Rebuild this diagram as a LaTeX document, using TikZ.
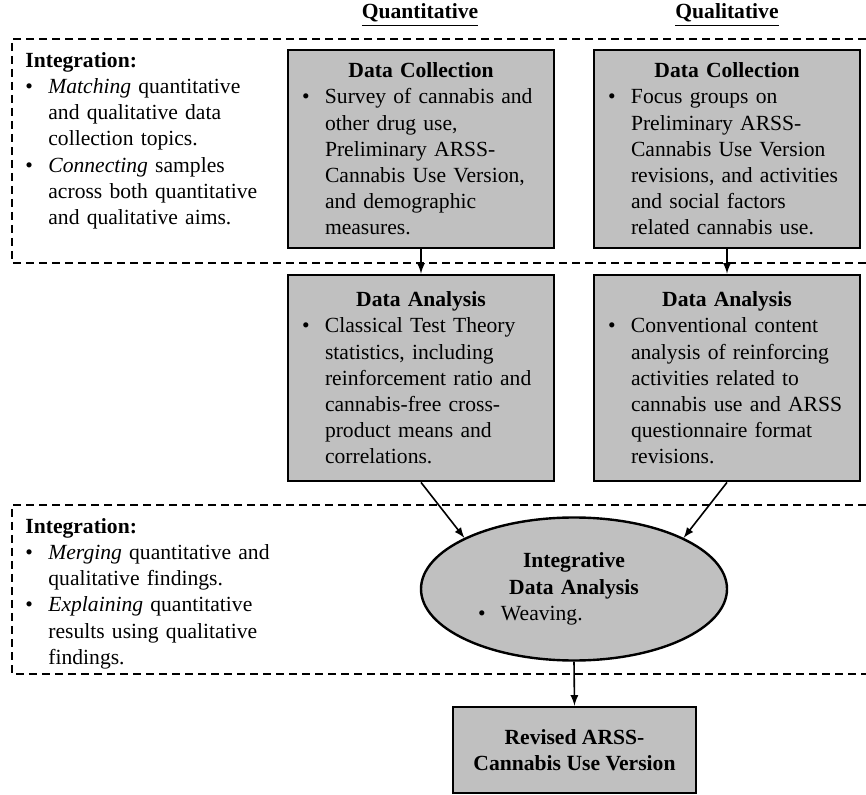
\documentclass[tikz,border=0pt]{standalone}
\usepackage{fontspec}
\setmainfont{Liberation Serif}
\usepackage{xcolor}
\usetikzlibrary{shapes.geometric}

\definecolor{boxgray}{RGB}{192,192,192}
% title line and bullet point inside a box
\newcommand{\btitle}[1]{{\centering\bfseries #1\par}}
\newcommand{\bpoint}{\par\raggedright\noindent\hangindent=11.5pt\hangafter=1\makebox[11.5pt][l]{\textbullet}}

\begin{document}
\begin{tikzpicture}[x=0.5pt,y=-0.5pt,
    txt/.style={font=\fontsize{10.8}{13.1}\selectfont},
    databox/.style={txt,draw,line width=1.4pt,fill=boxgray,minimum width=133pt,
        text width=119pt,inner xsep=7pt,inner ysep=0pt},
    region/.style={dashed,dash pattern=on 4pt off 2.5pt,line width=0.6pt},
    flow/.style={-latex,line width=0.8pt}]
    \useasboundingbox (0,0) rectangle (866,795);
    % Column headings
    \node[txt] (quanthead) at (420,15) {\underline{\textbf{Quantitative}}};
    \node[txt] (qualhead) at (727,15) {\underline{\textbf{Qualitative}}};
    % Integration regions
    \draw[region] (866,39) -- (12,39) -- (12,263) -- (866,263);
    \draw[region] (866,505) -- (12,505) -- (12,674) -- (866,674);
    \node[txt,anchor=north west,text width=125pt,inner sep=0pt] (integA) at (25,52) {%
        \textbf{Integration:}
        \bpoint\emph{Matching} quantitative\newline and qualitative data\newline collection topics.
        \bpoint\emph{Connecting} samples\newline across both quantitative\newline and qualitative aims.\par};
    \node[txt,anchor=north west,text width=125pt,inner sep=0pt] (integB) at (25,518) {%
        \textbf{Integration:}
        \bpoint\emph{Merging} quantitative and\newline qualitative findings.
        \bpoint\emph{Explaining} quantitative\newline results using qualitative\newline findings.\par};
    % Data collection
    \node[databox,minimum height=99pt] (quantDC) at (421,149) {%
        \btitle{Data Collection}
        \bpoint Survey of cannabis and\newline other drug use,\newline Preliminary ARSS-\newline Cannabis Use Version,\newline and demographic\newline measures.\par};
    \node[databox,minimum height=99pt] (qualDC) at (727,149) {%
        \btitle{Data Collection}
        \bpoint Focus groups on\newline Preliminary ARSS-\newline Cannabis Use Version\newline revisions,~and~activities\newline and social factors\newline related cannabis use.\par};
    % Data analysis
    \node[databox,minimum height=103pt] (quantDA) at (421,378) {%
        \btitle{Data Analysis}
        \bpoint Classical Test Theory\newline statistics, including\newline reinforcement~ratio~and\newline cannabis-free cross-\newline product means and\newline correlations.\par};
    \node[databox,minimum height=103pt] (qualDA) at (727,378) {%
        \btitle{Data Analysis}
        \bpoint Conventional content\newline analysis~of~reinforcing\newline activities related to\newline cannabis~use~and~ARSS\newline questionnaire format\newline revisions.\par};
    % Integrative analysis
    \node[txt,ellipse,draw,line width=1.2pt,fill=boxgray,minimum width=153pt,minimum height=71.5pt,
        text width=96pt,inner sep=0pt] (integ) at (574,589) {%
        \btitle{Integrative\\Data Analysis}
        \bpoint Weaving.\par};
    % Result
    \node[txt,draw,line width=1.4pt,fill=boxgray,minimum width=121.5pt,minimum height=43pt,
        align=center,font=\fontsize{10.8}{13.1}\selectfont\bfseries] (revised) at (574.5,750)
        {Revised ARSS-\\Cannabis Use Version};
    % Connectors
    \draw[flow] (quantDC.south) -- (quantDA.north);
    \draw[flow] (qualDC.south) -- (qualDA.north);
    \draw[flow] (quantDA.south) -- (integ.155);
    \draw[flow] (qualDA.south) -- (integ.25);
    \draw[flow] (integ.south) -- (revised.north);
\end{tikzpicture}
\end{document}
